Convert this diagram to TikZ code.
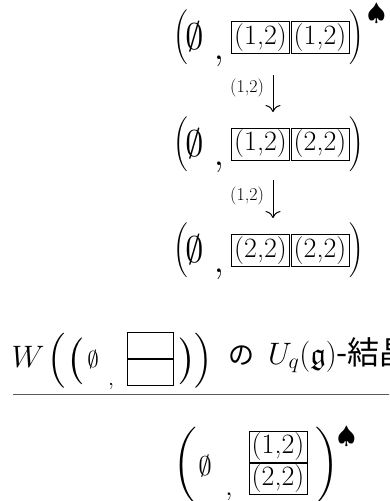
\documentclass[tikz,border=0pt]{standalone}
\usepackage{fix-cm}
\usepackage{amssymb}
\usepackage{fontspec}
\newfontfamily\cjk{Noto Sans CJK JP}
\usetikzlibrary{arrows.meta}
\newcommand{\fsz}[1]{\fontsize{#1}{#1}\selectfont}
\newcommand{\dlm}[2]{{\fontsize{#1}{#1}\usefont{OMX}{cmex}{m}{n}\char#2}}
\tikzset{
  cell/.style={draw, line width=0.7pt, minimum width=58.3pt, minimum height=32.3pt,
    inner sep=0pt, outer sep=0pt, font=\fsz{28}},
  hcell/.style={draw, line width=0.7pt, minimum width=46.3pt, minimum height=25.9pt,
    inner sep=0pt, outer sep=0pt},
  gl/.style={inner sep=0pt, outer sep=0pt},
  arr/.style={line width=1pt, -{Computer Modern Rightarrow[width=15pt,length=7pt]}},
  lbl/.style={gl, font=\fsz{18}, anchor=east},
}
\begin{document}
\begin{tikzpicture}[x=1pt,y=-1pt]
\useasboundingbox (0,0) rectangle (389,501);
\clip (0,0) rectangle (389,501);
% ---- row 1
\node[gl, anchor=north] (r1l) at (181,10) {\dlm{18.3}{"20}};
\node[gl, font=\fsz{37}] (r1e) at (195,37) {$\emptyset$};
\node[gl, font=\fsz{37}, anchor=base] (r1c) at (219,59) {$,$};
\node[cell] (r1a) at (260.5,37.5) {(1,2)};
\node[cell] (r1b) at (320,37.5) {(1,2)};
\node[gl, anchor=north] (r1r) at (357,10) {\dlm{18.3}{"21}};
\node[gl, font=\fsz{24}] (r1s) at (376.5,13.5) {$\spadesuit$};
% arrow 1
\coordinate (a1s) at (273,75);
\coordinate (a1e) at (273,112);
\draw[arr] (a1s) -- (a1e);
\node[lbl] (l1) at (264,88) {(1,2)};
% ---- row 2
\node[gl, anchor=north] (r2l) at (181,116.5) {\dlm{18.3}{"20}};
\node[gl, font=\fsz{37}] (r2e) at (195,143.5) {$\emptyset$};
\node[gl, font=\fsz{37}, anchor=base] (r2c) at (219,165.5) {$,$};
\node[cell] (r2a) at (260.5,144) {(1,2)};
\node[cell] (r2b) at (320,144) {(2,2)};
\node[gl, anchor=north] (r2r) at (357,116.5) {\dlm{18.3}{"21}};
% arrow 2
\coordinate (a2s) at (273,180);
\coordinate (a2e) at (273,218);
\draw[arr] (a2s) -- (a2e);
\node[lbl] (l2) at (264,196) {(1,2)};
% ---- row 3
\node[gl, anchor=north] (r3l) at (181,223) {\dlm{18.3}{"20}};
\node[gl, font=\fsz{37}] (r3e) at (195,250) {$\emptyset$};
\node[gl, font=\fsz{37}, anchor=base] (r3c) at (219,272) {$,$};
\node[cell] (r3a) at (260.5,250.5) {(2,2)};
\node[cell] (r3b) at (320,250.5) {(2,2)};
\node[gl, anchor=north] (r3r) at (357,223) {\dlm{18.3}{"21}};
% ---- heading
\node[gl, font=\fsz{31}, anchor=base] (hw) at (28,367) {$W$};
\node[gl, anchor=north] (hl1) at (57,333) {\dlm{30.5}{"10}};
\node[gl, anchor=north] (hl2) at (75,338) {\dlm{39}{"00}};
\node[gl, font=\fsz{23}] (he) at (93,360) {$\emptyset$};
\node[gl, font=\fsz{22}, anchor=base] (hc) at (111,385) {$,$};
\node[hcell] (ha) at (150.5,345.3) {};
\node[hcell] (hb) at (150.5,372.2) {};
\node[gl, anchor=north] (hr2) at (187,338) {\dlm{39}{"01}};
\node[gl, anchor=north] (hr1) at (204,333) {\dlm{30.5}{"11}};
\node[gl, font=\cjk\fsz{26}, anchor=base] (hno) at (241,364) {の};
\node[gl, font=\fsz{31}, anchor=base west] (hu) at (268,364) {$U_q(\mathfrak{g})$\cjk\fsz{32}-結晶};
\draw[line width=1pt, black!65] (13,394) -- (392,394);
% ---- bottom
\node[gl, anchor=north] (bl) at (185,427) {\dlm{32}{"12}};
\node[gl, font=\fsz{27}] (be) at (205,466) {$\emptyset$};
\node[gl, font=\fsz{27}, anchor=base] (bc) at (229,495) {$,$};
\node[cell, minimum height=31.3pt] (ba) at (278,447) {(1,2)};
\node[cell, minimum height=31.3pt] (bb) at (278,479) {(2,2)};
\node[gl, anchor=north] (br) at (327,427) {\dlm{32}{"13}};
\node[gl, font=\fsz{24}] (bs) at (346.5,436.5) {$\spadesuit$};
\end{tikzpicture}
\end{document}
